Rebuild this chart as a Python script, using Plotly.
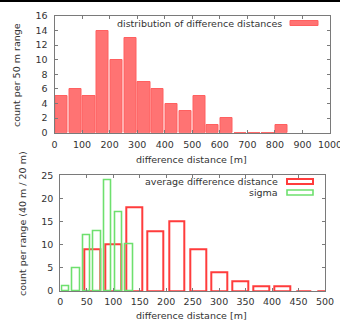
import plotly.graph_objects as go

W, H = 340, 321

# ---- data ----
top_centers = [25, 75, 125, 175, 225, 275, 325, 375, 425, 475, 525, 575, 625, 675, 725, 775, 825]
top_counts = [5, 6, 5, 14, 10, 13, 7, 6, 4, 3, 5, 1, 2, 0, 0, 0, 1]

avg_centers = [60, 100, 140, 180, 220, 260, 300, 340, 380, 420, 460, 500]
avg_counts = [9, 10, 18, 13, 15, 9, 4, 2, 1, 1, 0, 0]

sigma_centers = [10, 30, 50, 70, 90, 110, 130]
sigma_counts = [1, 5, 12, 13, 24, 17, 10]

top_xticks = [0, 100, 200, 300, 400, 500, 600, 700, 800, 900, 1000]
top_yticks = [0, 2, 4, 6, 8, 10, 12, 14, 16]
bot_xticks = [0, 50, 100, 150, 200, 250, 300, 350, 400, 450, 500]
bot_yticks = [0, 5, 10, 15, 20, 25]

FONT = "DejaVu Sans"
FS = 9.5
TXT = "#333333"
FRAME = "#7a7a7a"
RED = "#ff3c3c"
GREEN = "#6ee06e"

def px(x):
    return x / W

def py(y):
    return 1 - y / H

fig = go.Figure()

fig.add_trace(go.Bar(
    x=top_centers, y=top_counts, width=[44] * len(top_centers),
    marker=dict(color="rgba(255,90,90,0.85)", line=dict(color="#ff6060", width=1)),
    xaxis="x", yaxis="y", showlegend=False,
))
fig.add_trace(go.Bar(
    x=avg_centers, y=avg_counts, width=[30] * len(avg_centers),
    marker=dict(color="rgba(0,0,0,0)", line=dict(color=RED, width=2)),
    xaxis="x2", yaxis="y2", showlegend=False,
))
fig.add_trace(go.Bar(
    x=sigma_centers, y=sigma_counts, width=[14] * len(sigma_centers),
    marker=dict(color="rgba(0,0,0,0)", line=dict(color=GREEN, width=1.6)),
    xaxis="x2", yaxis="y2", showlegend=False,
))

axis_common = dict(
    showline=True, mirror="ticks", linecolor=FRAME, linewidth=1,
    ticks="inside", ticklen=3, tickcolor=FRAME, showgrid=False, zeroline=False,
    tickfont=dict(family=FONT, size=FS, color=TXT), automargin=False,
    ticklabeloverflow="allow",
)

fig.update_layout(
    width=W, height=H,
    margin=dict(l=0, r=0, t=0, b=0),
    paper_bgcolor="white", plot_bgcolor="white",
    barmode="overlay", bargap=0,
    showlegend=False,
    xaxis=dict(domain=[px(54.5), px(330)], range=[0, 1000], tickvals=top_xticks,
               anchor="y", ticklabelstandoff=3, **axis_common),
    yaxis=dict(domain=[py(132.7), py(16)], range=[0, 16], tickvals=top_yticks,
               anchor="x", ticklabelstandoff=4, **axis_common),
    xaxis2=dict(domain=[px(60.3), px(325)], range=[0, 500], tickvals=bot_xticks,
                anchor="y2", ticklabelstandoff=2, **axis_common),
    yaxis2=dict(domain=[py(291), py(175.3)], range=[0, 25], tickvals=bot_yticks,
                anchor="x2", ticklabelstandoff=4, **axis_common),
)

ann = []
def text(x, y, s, angle=0, xanchor="center"):
    ann.append(dict(x=px(x), y=py(y), xref="paper", yref="paper", text=s,
                    showarrow=False, textangle=angle, xanchor=xanchor, yanchor="middle",
                    font=dict(family=FONT, size=FS, color=TXT)))

text(16, 75, "count per 50 m range", angle=-90)
text(22, 224, "count per range (40 m / 20 m)", angle=-90)
text(191, 159.5, "difference distance [m]")
text(191, 315, "difference distance [m]")
text(284, 23, "distribution of difference distances", xanchor="right")
text(280, 181.5, "average difference distance", xanchor="right")
text(280, 192.5, "sigma", xanchor="right")

shapes = [
    dict(type="line", xref="paper", yref="paper", x0=0, x1=1, y0=py(1), y1=py(1),
         line=dict(color="black", width=2)),
    dict(type="rect", xref="paper", yref="paper", x0=px(290), x1=px(318), y0=py(25.5), y1=py(20.5),
         fillcolor="rgba(255,90,90,0.85)", line=dict(color="#ff6060", width=1)),
    dict(type="rect", xref="paper", yref="paper", x0=px(287), x1=px(313), y0=py(184), y1=py(179),
         fillcolor="rgba(0,0,0,0)", line=dict(color=RED, width=2)),
    dict(type="rect", xref="paper", yref="paper", x0=px(287), x1=px(313), y0=py(195), y1=py(190),
         fillcolor="rgba(0,0,0,0)", line=dict(color=GREEN, width=1.6)),
]
fig.update_layout(annotations=ann, shapes=shapes)

post = (
    "document.body.style.margin='0px';"
    "document.body.style.overflow='hidden';"
    "var bar=document.createElement('div');"
    "bar.style.cssText='position:fixed;left:0;top:0;width:100%;height:2px;background:#000;z-index:1000;';"
    "document.body.appendChild(bar);"
)

fig.write_html("out.html", config={"displayModeBar": False}, post_script=post)
